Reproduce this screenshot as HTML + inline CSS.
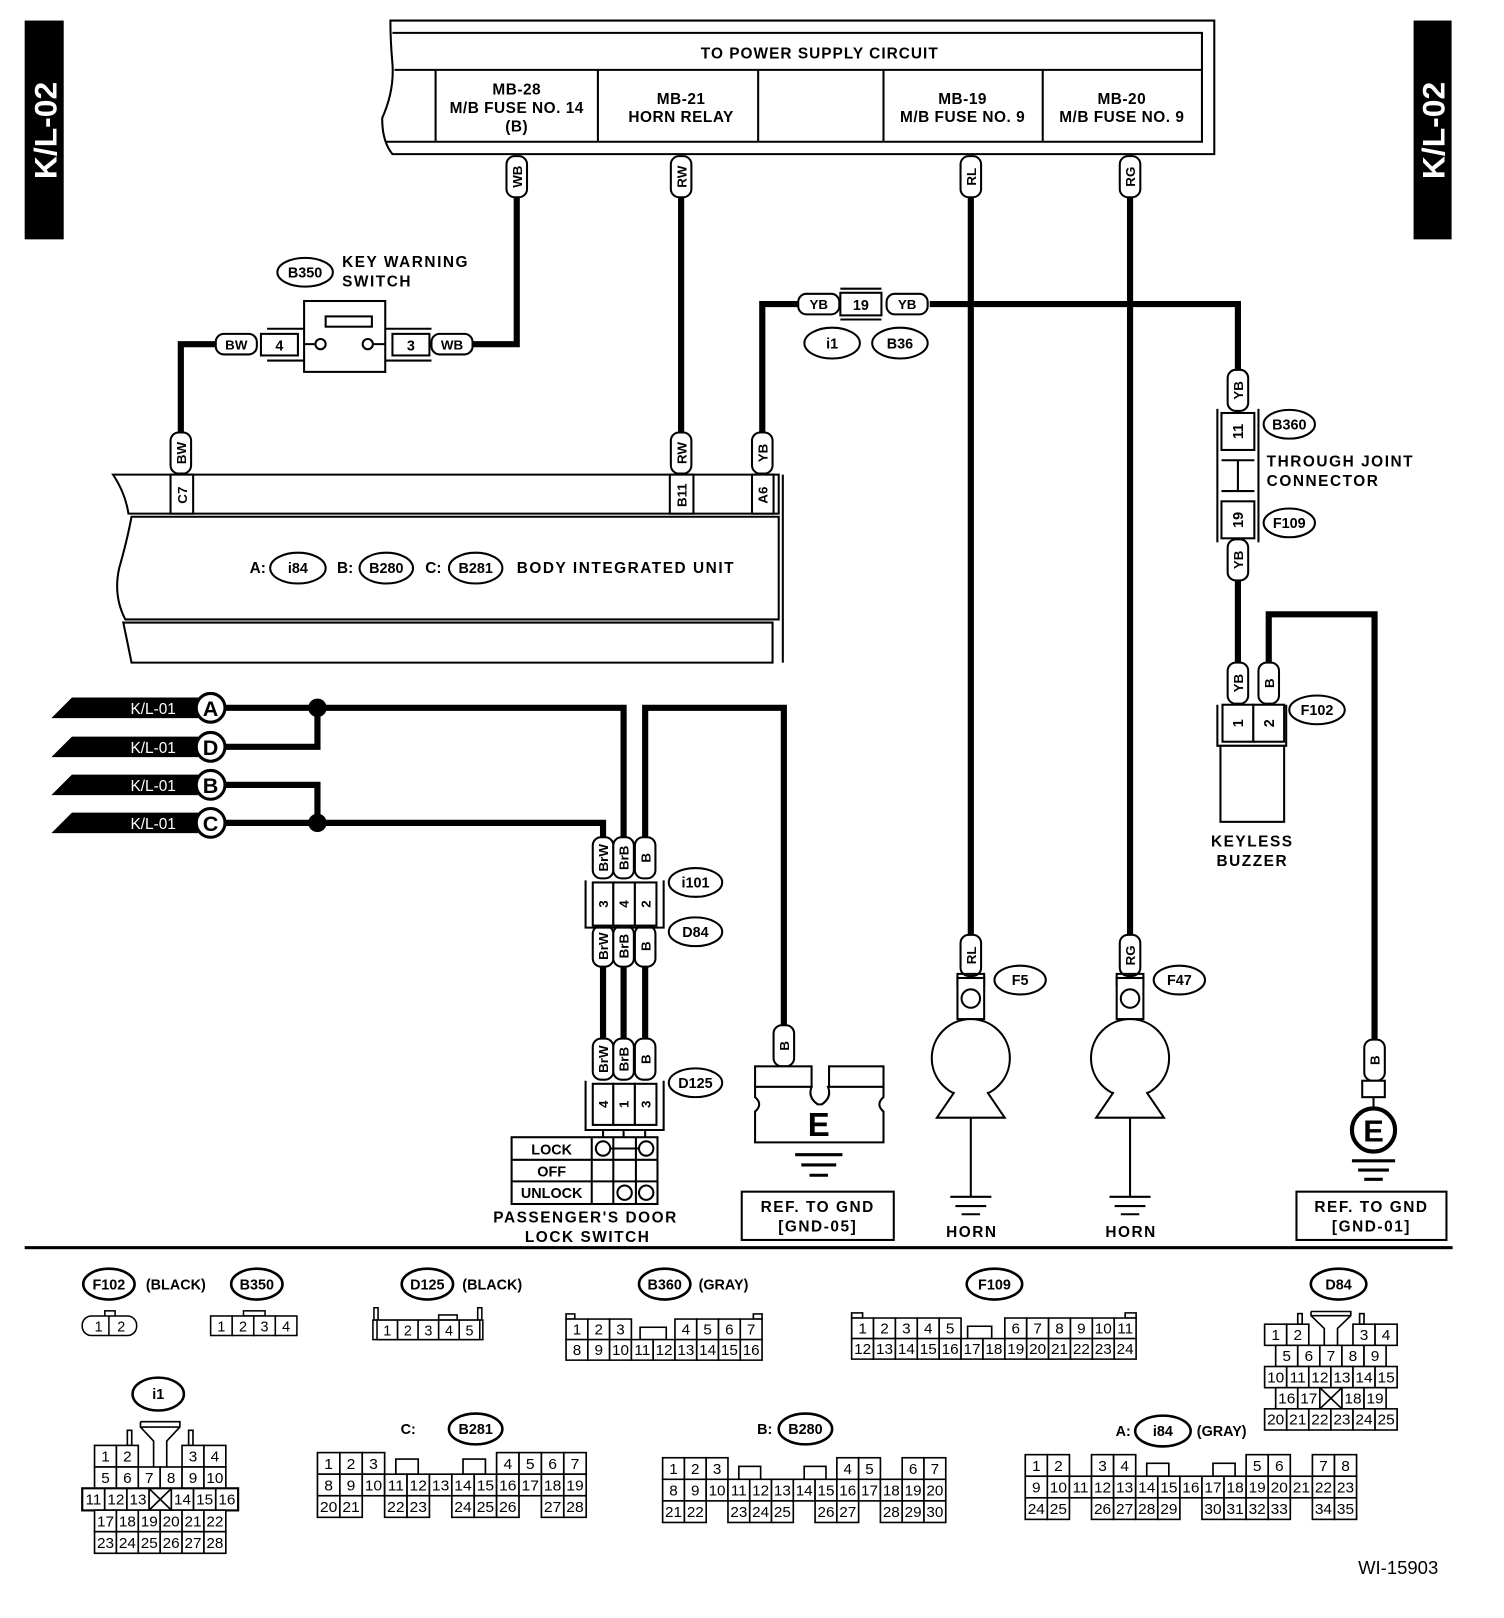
<!DOCTYPE html>
<html><head><meta charset="utf-8"><style>
html,body{margin:0;padding:0;background:#fff}
svg{display:block}
text{font-family:"Liberation Sans",sans-serif;font-weight:bold;fill:#000}
.l{font-size:15px;letter-spacing:1.5px}
.c rect{fill:#fff;stroke:#000;stroke-width:1.5}
.c text{font-size:14px;font-weight:normal;text-anchor:middle}
.w{fill:none;stroke:#000;stroke-width:6}
.t{fill:none;stroke:#000;stroke-width:2}
.p{fill:#fff;stroke:#000;stroke-width:2}
.m{text-anchor:middle}
</style></head><body>
<svg width="1504" height="1618" viewBox="0 0 1464 1575" xmlns="http://www.w3.org/2000/svg">
<!-- side tabs -->
<rect x="24" y="20" width="38" height="213" fill="#000"/>
<text transform="translate(55,127) rotate(-90)" class="m" style="font-size:31px;fill:#fff">K/L-02</text>
<rect x="1376" y="20" width="37" height="213" fill="#000"/>
<text transform="translate(1406,127) rotate(-90)" class="m" style="font-size:31px;fill:#fff">K/L-02</text>

<!-- top box -->
<path class="t" d="M380,20 H1182 V150 H382 Q372,138 372,115 Q384,88 382,62 Q380,40 380,20 Z"/>
<path class="t" d="M382,32 H1170 V138 H376 M384,68 H1170 M424,68 V138 M582,68 V138 M738,68 V138 M860,68 V138 M1015,68 V138"/>
<text x="798" y="57" class="m" style="font-size:15px;letter-spacing:1px">TO POWER SUPPLY CIRCUIT</text>
<g class="m" style="font-size:15px;letter-spacing:0.5px">
<text x="503" y="92">MB-28</text><text x="503" y="110">M/B FUSE NO. 14</text><text x="503" y="128">(B)</text>
<text x="663" y="101">MB-21</text><text x="663" y="119">HORN RELAY</text>
<text x="937" y="101">MB-19</text><text x="937" y="119">M/B FUSE NO. 9</text>
<text x="1092" y="101">MB-20</text><text x="1092" y="119">M/B FUSE NO. 9</text>
</g>

<!-- wires -->
<path class="w" d="M503,190 V335 H460"/>
<path class="w" d="M210,335 H176 V422"/>
<path class="w" d="M663,190 V422"/>
<path class="w" d="M945,190 V912"/>
<path class="w" d="M1100,190 V912"/>
<path class="w" d="M742,422 V296 H778 M905,296 H1205 V360"/>
<path class="w" d="M1205,565 V646"/>
<path class="w" d="M1235,646 V598 H1338 V1015"/>
<path class="w" d="M219,689 H607 V815 M309,689 V727 H219 M219,764 H309 V801 M219,801 H587 V815"/>
<path class="w" d="M628,815 V689 H763 V1000"/>
<path class="w" d="M587,940 V1012 M607,940 V1012 M628,940 V1012"/>
<circle cx="309" cy="689" r="9"/><circle cx="309" cy="801" r="9"/>

<!-- vertical pills -->
<g style="font-size:13px">
<g transform="translate(503,172)"><rect class="p" x="-10" y="-20" width="20" height="40" rx="8"/><text transform="rotate(-90)" class="m" y="5">WB</text></g>
<g transform="translate(663,172)"><rect class="p" x="-10" y="-20" width="20" height="40" rx="8"/><text transform="rotate(-90)" class="m" y="5">RW</text></g>
<g transform="translate(945,172)"><rect class="p" x="-10" y="-20" width="20" height="40" rx="8"/><text transform="rotate(-90)" class="m" y="5">RL</text></g>
<g transform="translate(1100,172)"><rect class="p" x="-10" y="-20" width="20" height="40" rx="8"/><text transform="rotate(-90)" class="m" y="5">RG</text></g>
<g transform="translate(176,441)"><rect class="p" x="-10" y="-20" width="20" height="40" rx="8"/><text transform="rotate(-90)" class="m" y="5">BW</text></g>
<g transform="translate(663,441)"><rect class="p" x="-10" y="-20" width="20" height="40" rx="8"/><text transform="rotate(-90)" class="m" y="5">RW</text></g>
<g transform="translate(742,441)"><rect class="p" x="-10" y="-20" width="20" height="40" rx="8"/><text transform="rotate(-90)" class="m" y="5">YB</text></g>
<g transform="translate(1205,380)"><rect class="p" x="-10" y="-20" width="20" height="40" rx="8"/><text transform="rotate(-90)" class="m" y="5">YB</text></g>
<g transform="translate(1205,545)"><rect class="p" x="-10" y="-20" width="20" height="40" rx="8"/><text transform="rotate(-90)" class="m" y="5">YB</text></g>
<g transform="translate(1205,665)"><rect class="p" x="-10" y="-20" width="20" height="40" rx="8"/><text transform="rotate(-90)" class="m" y="5">YB</text></g>
<g transform="translate(1235,665)"><rect class="p" x="-10" y="-20" width="20" height="40" rx="8"/><text transform="rotate(-90)" class="m" y="5">B</text></g>
<g transform="translate(587,835)"><rect class="p" x="-10" y="-20" width="20" height="40" rx="8"/><text transform="rotate(-90)" class="m" y="5">BrW</text></g>
<g transform="translate(607,835)"><rect class="p" x="-10" y="-20" width="20" height="40" rx="8"/><text transform="rotate(-90)" class="m" y="5">BrB</text></g>
<g transform="translate(628,835)"><rect class="p" x="-10" y="-20" width="20" height="40" rx="8"/><text transform="rotate(-90)" class="m" y="5">B</text></g>
<g transform="translate(587,921)"><rect class="p" x="-10" y="-20" width="20" height="40" rx="8"/><text transform="rotate(-90)" class="m" y="5">BrW</text></g>
<g transform="translate(607,921)"><rect class="p" x="-10" y="-20" width="20" height="40" rx="8"/><text transform="rotate(-90)" class="m" y="5">BrB</text></g>
<g transform="translate(628,921)"><rect class="p" x="-10" y="-20" width="20" height="40" rx="8"/><text transform="rotate(-90)" class="m" y="5">B</text></g>
<g transform="translate(587,1031)"><rect class="p" x="-10" y="-20" width="20" height="40" rx="8"/><text transform="rotate(-90)" class="m" y="5">BrW</text></g>
<g transform="translate(607,1031)"><rect class="p" x="-10" y="-20" width="20" height="40" rx="8"/><text transform="rotate(-90)" class="m" y="5">BrB</text></g>
<g transform="translate(628,1031)"><rect class="p" x="-10" y="-20" width="20" height="40" rx="8"/><text transform="rotate(-90)" class="m" y="5">B</text></g>
<g transform="translate(763,1018)"><rect class="p" x="-10" y="-20" width="20" height="40" rx="8"/><text transform="rotate(-90)" class="m" y="5">B</text></g>
<g transform="translate(945,930)"><rect class="p" x="-10" y="-20" width="20" height="40" rx="8"/><text transform="rotate(-90)" class="m" y="5">RL</text></g>
<g transform="translate(1100,930)"><rect class="p" x="-10" y="-20" width="20" height="40" rx="8"/><text transform="rotate(-90)" class="m" y="5">RG</text></g>
<g transform="translate(1338,1032)"><rect class="p" x="-10" y="-20" width="20" height="40" rx="8"/><text transform="rotate(-90)" class="m" y="5">B</text></g>
<!-- horizontal pills -->
<g transform="translate(230,335)"><rect class="p" x="-20" y="-10" width="40" height="20" rx="8"/><text class="m" y="5">BW</text></g>
<g transform="translate(440,335)"><rect class="p" x="-20" y="-10" width="40" height="20" rx="8"/><text class="m" y="5">WB</text></g>
<g transform="translate(797,296)"><rect class="p" x="-20" y="-10" width="40" height="20" rx="8"/><text class="m" y="5">YB</text></g>
<g transform="translate(883,296)"><rect class="p" x="-20" y="-10" width="40" height="20" rx="8"/><text class="m" y="5">YB</text></g>
</g>

<!-- key warning switch -->
<ellipse cx="297" cy="265" rx="27" ry="14" class="p"/><text x="297" y="270" class="m" style="font-size:14px">B350</text>
<text x="333" y="260" class="l">KEY WARNING</text><text x="333" y="279" class="l">SWITCH</text>
<rect x="296" y="293" width="79" height="69" class="p"/>
<rect x="317" y="308" width="45" height="10" class="p"/>
<path class="t" d="M260,320 H296 M260,351 H296 M375,320 H420 M375,351 H420 M296,335 H306 M364,335 H375"/>
<circle cx="312" cy="335" r="5" class="p"/><circle cx="358" cy="335" r="5" class="p"/>
<rect x="254" y="325" width="36" height="21" class="p"/><text x="272" y="341" class="m" style="font-size:14px">4</text>
<rect x="382" y="325" width="36" height="21" class="p"/><text x="400" y="341" class="m" style="font-size:14px">3</text>

<!-- i1/B36 -->
<rect x="818" y="285" width="40" height="22" class="p"/><text x="838" y="302" class="m" style="font-size:14px">19</text>
<path class="t" d="M818,281 H858 M818,311 H858"/>
<ellipse cx="810" cy="334" rx="27" ry="15" class="p"/><text x="810" y="339" class="m" style="font-size:14px">i1</text>
<ellipse cx="876" cy="334" rx="27" ry="15" class="p"/><text x="876" y="339" class="m" style="font-size:14px">B36</text>

<!-- through joint -->
<rect x="1189" y="402" width="32" height="36" class="p"/><text transform="translate(1210,420) rotate(-90)" class="m" style="font-size:14px">11</text>
<path class="t" d="M1185,398 V528 M1225,398 V528 M1189,448 H1221 M1189,478 H1221 M1205,448 V478"/>
<rect x="1189" y="488" width="32" height="36" class="p"/><text transform="translate(1210,506) rotate(-90)" class="m" style="font-size:14px">19</text>
<ellipse cx="1255" cy="413" rx="25" ry="14" class="p"/><text x="1255" y="418" class="m" style="font-size:14px">B360</text>
<ellipse cx="1255" cy="509" rx="25" ry="14" class="p"/><text x="1255" y="514" class="m" style="font-size:14px">F109</text>
<text x="1233" y="454" class="l">THROUGH JOINT</text><text x="1233" y="473" class="l">CONNECTOR</text>

<!-- keyless buzzer -->
<rect x="1190" y="686" width="30" height="36" class="p"/><text transform="translate(1210,704) rotate(-90)" class="m" style="font-size:14px">1</text>
<rect x="1220" y="686" width="30" height="36" class="p"/><text transform="translate(1240,704) rotate(-90)" class="m" style="font-size:14px">2</text>
<path class="t" d="M1185,686 V726 H1252 V686"/>
<rect x="1188" y="726" width="62" height="74" class="p"/>
<ellipse cx="1282" cy="691" rx="27" ry="14" class="p"/><text x="1282" y="696" class="m" style="font-size:14px">F102</text>
<text x="1219" y="824" class="l m">KEYLESS</text><text x="1219" y="843" class="l m">BUZZER</text>

<!-- body integrated unit -->
<path class="t" d="M110,462 H758 V500 H125 Q122,480 110,462 Z"/>
<path class="t" d="M128,503 H758 V603 H122 Q110,580 116,553 Q124,525 128,503 Z"/>
<path class="t" d="M120,606 H752 V645 H128 Q124,625 120,606 Z M762,462 V645"/>
<rect x="166" y="462" width="22" height="38" class="p"/><text transform="translate(182,482) rotate(-90)" class="m" style="font-size:13px">C7</text>
<rect x="652" y="462" width="23" height="38" class="p"/><text transform="translate(668,482) rotate(-90)" class="m" style="font-size:13px">B11</text>
<rect x="732" y="462" width="21" height="38" class="p"/><text transform="translate(747,482) rotate(-90)" class="m" style="font-size:13px">A6</text>
<text x="243" y="558" style="font-size:15px">A:</text>
<ellipse cx="290" cy="553" rx="27" ry="15" class="p"/><text x="290" y="558" class="m" style="font-size:14px">i84</text>
<text x="328" y="558" style="font-size:15px">B:</text>
<ellipse cx="376" cy="553" rx="26" ry="15" class="p"/><text x="376" y="558" class="m" style="font-size:14px">B280</text>
<text x="414" y="558" style="font-size:15px">C:</text>
<ellipse cx="463" cy="553" rx="26" ry="15" class="p"/><text x="463" y="558" class="m" style="font-size:14px">B281</text>
<text x="503" y="558" class="l">BODY INTEGRATED UNIT</text>

<!-- K/L-01 arrows -->
<g>
<polygon points="50,699 70,679 193,679 193,699"/><text x="127" y="695" style="font-size:15px;fill:#fff;font-weight:normal">K/L-01</text>
<circle cx="205" cy="689" r="14" class="p" style="stroke-width:3"/><text x="205" y="697" class="m" style="font-size:21px">A</text>
<polygon points="50,737 70,717 193,717 193,737"/><text x="127" y="733" style="font-size:15px;fill:#fff;font-weight:normal">K/L-01</text>
<circle cx="205" cy="727" r="14" class="p" style="stroke-width:3"/><text x="205" y="735" class="m" style="font-size:21px">D</text>
<polygon points="50,774 70,754 193,754 193,774"/><text x="127" y="770" style="font-size:15px;fill:#fff;font-weight:normal">K/L-01</text>
<circle cx="205" cy="764" r="14" class="p" style="stroke-width:3"/><text x="205" y="772" class="m" style="font-size:21px">B</text>
<polygon points="50,811 70,791 193,791 193,811"/><text x="127" y="807" style="font-size:15px;fill:#fff;font-weight:normal">K/L-01</text>
<circle cx="205" cy="801" r="14" class="p" style="stroke-width:3"/><text x="205" y="809" class="m" style="font-size:21px">C</text>
</g>

<!-- i101/D84 -->
<path class="t" d="M570,857 V903 H646 V857"/>
<rect x="577" y="859" width="20" height="42" class="p"/><rect x="597" y="859" width="21" height="42" class="p"/><rect x="618" y="859" width="21" height="42" class="p"/>
<g style="font-size:13px"><text transform="translate(592,880) rotate(-90)" class="m">3</text><text transform="translate(612,880) rotate(-90)" class="m">4</text><text transform="translate(633,880) rotate(-90)" class="m">2</text></g>
<ellipse cx="677" cy="859" rx="26" ry="14" class="p"/><text x="677" y="864" class="m" style="font-size:14px">i101</text>
<ellipse cx="677" cy="907" rx="26" ry="14" class="p"/><text x="677" y="912" class="m" style="font-size:14px">D84</text>
<!-- D125 -->
<path class="t" d="M570,1052 V1100 H646 V1052"/>
<rect x="577" y="1055" width="20" height="40" class="p"/><rect x="597" y="1055" width="21" height="40" class="p"/><rect x="618" y="1055" width="21" height="40" class="p"/>
<g style="font-size:13px"><text transform="translate(592,1075) rotate(-90)" class="m">4</text><text transform="translate(612,1075) rotate(-90)" class="m">1</text><text transform="translate(633,1075) rotate(-90)" class="m">3</text></g>
<ellipse cx="677" cy="1054" rx="26" ry="14" class="p"/><text x="677" y="1059" class="m" style="font-size:14px">D125</text>
<path class="t" d="M587,1100 V1107 M607,1100 V1107 M628,1100 V1107"/>
<rect x="498" y="1107" width="142" height="65" class="p"/>
<path class="t" d="M498,1129 H640 M498,1150 H640 M576,1107 V1172 M597,1107 V1172 M619,1107 V1172 M593,1118 H623"/>
<circle cx="587" cy="1118" r="7" class="p"/><circle cx="629" cy="1118" r="7" class="p"/>
<circle cx="608" cy="1161" r="7" class="p"/><circle cx="629" cy="1161" r="7" class="p"/>
<text x="537" y="1124" class="m" style="font-size:14px">LOCK</text>
<text x="537" y="1145" class="m" style="font-size:14px">OFF</text>
<text x="537" y="1166" class="m" style="font-size:14px">UNLOCK</text>
<text x="570" y="1190" class="l m">PASSENGER'S DOOR</text>
<text x="572" y="1209" class="l m">LOCK SWITCH</text>

<!-- ground E block -->
<rect x="735" y="1038" width="55" height="20" class="p"/><rect x="807" y="1038" width="53" height="20" class="p"/>
<path class="p" d="M735,1058 H790 Q786,1068 796,1075 H800 Q810,1068 806,1058 H860 V1068 Q852,1075 860,1082 V1112 H735 V1082 Q743,1075 735,1068 Z"/>
<text x="797" y="1106" class="m" style="font-size:32px">E</text>
<path class="t" style="stroke-width:3" d="M774,1124 H820 M780,1134 H814 M788,1144 H806"/>
<rect x="722" y="1160" width="148" height="47" class="p"/>
<text x="796" y="1180" class="l m">REF. TO GND</text><text x="796" y="1199" class="l m">[GND-05]</text>

<!-- horns -->
<g>
<path class="t" d="M932,960 V948 H958 V960 M1087,960 V948 H1113 V960"/>
<rect x="932" y="952" width="26" height="40" class="p"/><circle cx="945" cy="972" r="9" class="p"/>
<circle cx="945" cy="1030" r="38" class="p"/>
<path class="p" d="M929,1063 L912,1088 H978 L961,1063"/>
<path class="t" d="M945,1088 V1165 M925,1165 H965 M930,1174 H960 M936,1182 H954"/>
<text x="946" y="1204" class="l m">HORN</text>
<ellipse cx="993" cy="954" rx="25" ry="14" class="p"/><text x="993" y="959" class="m" style="font-size:14px">F5</text>
<rect x="1087" y="952" width="26" height="40" class="p"/><circle cx="1100" cy="972" r="9" class="p"/>
<circle cx="1100" cy="1030" r="38" class="p"/>
<path class="p" d="M1084,1063 L1067,1088 H1133 L1116,1063"/>
<path class="t" d="M1100,1088 V1165 M1080,1165 H1120 M1085,1174 H1115 M1091,1182 H1109"/>
<text x="1101" y="1204" class="l m">HORN</text>
<ellipse cx="1148" cy="954" rx="25" ry="14" class="p"/><text x="1148" y="959" class="m" style="font-size:14px">F47</text>
</g>

<!-- GND-01 -->
<rect x="1326" y="1052" width="22" height="16" class="p"/>
<circle cx="1337" cy="1100" r="21" class="p" style="stroke-width:4"/>
<path class="t" d="M1337,1068 V1079"/>
<text x="1337" y="1111" class="m" style="font-size:30px">E</text>
<path class="t" style="stroke-width:3" d="M1316,1130 H1358 M1322,1139 H1352 M1328,1148 H1346"/>
<rect x="1262" y="1160" width="146" height="47" class="p"/>
<text x="1335" y="1180" class="l m">REF. TO GND</text><text x="1335" y="1199" class="l m">[GND-01]</text>

<!-- separator -->
<rect x="24" y="1213" width="1390" height="3"/>

<!-- connector labels -->
<g style="font-size:14px">
<ellipse cx="106" cy="1250" rx="25" ry="15" class="p" style="stroke-width:2.5"/><text x="106" y="1255" class="m">F102</text>
<text x="142" y="1255">(BLACK)</text>
<ellipse cx="250" cy="1250" rx="25" ry="15" class="p" style="stroke-width:2.5"/><text x="250" y="1255" class="m">B350</text>
<ellipse cx="416" cy="1250" rx="25" ry="15" class="p" style="stroke-width:2.5"/><text x="416" y="1255" class="m">D125</text>
<text x="450" y="1255">(BLACK)</text>
<ellipse cx="647" cy="1250" rx="25" ry="15" class="p" style="stroke-width:2.5"/><text x="647" y="1255" class="m">B360</text>
<text x="680" y="1255">(GRAY)</text>
<ellipse cx="968" cy="1250" rx="27" ry="15" class="p" style="stroke-width:2.5"/><text x="968" y="1255" class="m">F109</text>
<ellipse cx="1303" cy="1250" rx="27" ry="15" class="p" style="stroke-width:2.5"/><text x="1303" y="1255" class="m">D84</text>
<ellipse cx="154" cy="1357" rx="25" ry="16" class="p" style="stroke-width:2.5"/><text x="154" y="1362" class="m">i1</text>
<text x="390" y="1396">C:</text>
<ellipse cx="463" cy="1391" rx="26" ry="15" class="p" style="stroke-width:2.5"/><text x="463" y="1396" class="m">B281</text>
<text x="737" y="1396">B:</text>
<ellipse cx="784" cy="1391" rx="26" ry="15" class="p" style="stroke-width:2.5"/><text x="784" y="1396" class="m">B280</text>
<text x="1086" y="1398">A:</text>
<ellipse cx="1132" cy="1393" rx="27" ry="15" class="p" style="stroke-width:2.5"/><text x="1132" y="1398" class="m">i84</text>
<text x="1165" y="1398">(GRAY)</text>
</g>
<text x="1322" y="1532" style="font-size:18px;font-weight:normal">WI-15903</text>

<!-- F102 connector -->
<g class="c">
<rect x="102" y="1276" width="10" height="6"/>
<rect x="80" y="1281" width="53" height="19" rx="9"/>
<path d="M106,1281 V1300" stroke="#000" stroke-width="1.5"/>
<text x="96" y="1296">1</text><text x="118" y="1296">2</text>
</g>
<!-- B350 connector -->
<g class="c" transform="translate(205,1281)">
<rect x="32" y="-5" width="21" height="5"/>
<rect x="0" y="0" width="21" height="19"/><rect x="21" y="0" width="21" height="19"/><rect x="42" y="0" width="21" height="19"/><rect x="63" y="0" width="21" height="19"/>
<text x="10.5" y="15">1</text><text x="31.5" y="15">2</text><text x="52.5" y="15">3</text><text x="73.5" y="15">4</text>
</g>
<!-- D125 connector -->
<g class="c" transform="translate(363,1285)">
<rect x="1" y="-12" width="4" height="12"/><rect x="102" y="-12" width="4" height="12"/><rect x="64" y="-5" width="18" height="5"/>
<rect x="0" y="0" width="107" height="19"/>
<rect x="4" y="0" width="20" height="19"/><rect x="24" y="0" width="20" height="19"/><rect x="44" y="0" width="20" height="19"/><rect x="64" y="0" width="20" height="19"/><rect x="84" y="0" width="20" height="19"/>
<text x="14" y="15">1</text><text x="34" y="15">2</text><text x="54" y="15">3</text><text x="74" y="15">4</text><text x="94" y="15">5</text>
</g>
<!-- B360 connector -->
<g class="c" transform="translate(551,1284) scale(1.06,1)">
<rect x="0" y="-5" width="8" height="5"/><rect x="172" y="-5" width="8" height="5"/><rect x="68" y="8" width="24" height="12"/>
<rect x="0" y="0" width="20" height="20"/><rect x="20" y="0" width="20" height="20"/><rect x="40" y="0" width="20" height="20"/>
<rect x="100" y="0" width="20" height="20"/><rect x="120" y="0" width="20" height="20"/><rect x="140" y="0" width="20" height="20"/><rect x="160" y="0" width="20" height="20"/>
<text x="10" y="15">1</text><text x="30" y="15">2</text><text x="50" y="15">3</text><text x="110" y="15">4</text><text x="130" y="15">5</text><text x="150" y="15">6</text><text x="170" y="15">7</text>
<rect x="0" y="20" width="20" height="20"/><rect x="20" y="20" width="20" height="20"/><rect x="40" y="20" width="20" height="20"/><rect x="60" y="20" width="20" height="20"/><rect x="80" y="20" width="20" height="20"/><rect x="100" y="20" width="20" height="20"/><rect x="120" y="20" width="20" height="20"/><rect x="140" y="20" width="20" height="20"/><rect x="160" y="20" width="20" height="20"/>
<text x="10" y="35">8</text><text x="30" y="35">9</text><text x="50" y="35">10</text><text x="70" y="35">11</text><text x="90" y="35">12</text><text x="110" y="35">13</text><text x="130" y="35">14</text><text x="150" y="35">15</text><text x="170" y="35">16</text>
</g>
<!-- F109 connector -->
<g class="c" transform="translate(829,1283) scale(1.065,1)">
<rect x="0" y="-5" width="10" height="5"/><rect x="250" y="-5" width="10" height="5"/><rect x="106" y="8" width="22" height="12"/>
<rect x="0" y="0" width="20" height="20"/><rect x="20" y="0" width="20" height="20"/><rect x="40" y="0" width="20" height="20"/><rect x="60" y="0" width="20" height="20"/><rect x="80" y="0" width="20" height="20"/>
<rect x="140" y="0" width="20" height="20"/><rect x="160" y="0" width="20" height="20"/><rect x="180" y="0" width="20" height="20"/><rect x="200" y="0" width="20" height="20"/><rect x="220" y="0" width="20" height="20"/><rect x="240" y="0" width="20" height="20"/>
<text x="10" y="15">1</text><text x="30" y="15">2</text><text x="50" y="15">3</text><text x="70" y="15">4</text><text x="90" y="15">5</text><text x="150" y="15">6</text><text x="170" y="15">7</text><text x="190" y="15">8</text><text x="210" y="15">9</text><text x="230" y="15">10</text><text x="250" y="15">11</text>
<rect x="0" y="20" width="20" height="20"/><rect x="20" y="20" width="20" height="20"/><rect x="40" y="20" width="20" height="20"/><rect x="60" y="20" width="20" height="20"/><rect x="80" y="20" width="20" height="20"/><rect x="100" y="20" width="20" height="20"/><rect x="120" y="20" width="20" height="20"/><rect x="140" y="20" width="20" height="20"/><rect x="160" y="20" width="20" height="20"/><rect x="180" y="20" width="20" height="20"/><rect x="200" y="20" width="20" height="20"/><rect x="220" y="20" width="20" height="20"/><rect x="240" y="20" width="20" height="20"/>
<text x="10" y="35">12</text><text x="30" y="35">13</text><text x="50" y="35">14</text><text x="70" y="35">15</text><text x="90" y="35">16</text><text x="110" y="35">17</text><text x="130" y="35">18</text><text x="150" y="35">19</text><text x="170" y="35">20</text><text x="190" y="35">21</text><text x="210" y="35">22</text><text x="230" y="35">23</text><text x="250" y="35">24</text>
</g>
<!-- D84 connector -->
<g class="c" transform="translate(1231,1289) scale(1.075,1.03)">
<rect x="30" y="-10" width="4" height="10"/><rect x="86" y="-10" width="4" height="10"/>
<path d="M42,-12 H78 V-8 L66,4 V20 M42,-12 V-8 L54,4 V20 M42,-8 H78" fill="none" stroke="#000" stroke-width="1.5"/>
<rect x="0" y="0" width="20" height="20"/><rect x="20" y="0" width="20" height="20"/><rect x="80" y="0" width="20" height="20"/><rect x="100" y="0" width="20" height="20"/>
<text x="10" y="15">1</text><text x="30" y="15">2</text><text x="90" y="15">3</text><text x="110" y="15">4</text>
<rect x="10" y="20" width="20" height="20"/><rect x="30" y="20" width="20" height="20"/><rect x="50" y="20" width="20" height="20"/><rect x="70" y="20" width="20" height="20"/><rect x="90" y="20" width="20" height="20"/>
<text x="20" y="35">5</text><text x="40" y="35">6</text><text x="60" y="35">7</text><text x="80" y="35">8</text><text x="100" y="35">9</text>
<rect x="0" y="40" width="20" height="20"/><rect x="20" y="40" width="20" height="20"/><rect x="40" y="40" width="20" height="20"/><rect x="60" y="40" width="20" height="20"/><rect x="80" y="40" width="20" height="20"/><rect x="100" y="40" width="20" height="20"/>
<text x="10" y="55">10</text><text x="30" y="55">11</text><text x="50" y="55">12</text><text x="70" y="55">13</text><text x="90" y="55">14</text><text x="110" y="55">15</text>
<rect x="10" y="60" width="20" height="20"/><rect x="30" y="60" width="20" height="20"/><rect x="50" y="60" width="20" height="20"/><rect x="70" y="60" width="20" height="20"/><rect x="90" y="60" width="20" height="20"/>
<path d="M50,60 L70,80 M70,60 L50,80" stroke="#000" stroke-width="1.5"/>
<text x="20" y="75">16</text><text x="40" y="75">17</text><text x="80" y="75">18</text><text x="100" y="75">19</text>
<rect x="0" y="80" width="20" height="20"/><rect x="20" y="80" width="20" height="20"/><rect x="40" y="80" width="20" height="20"/><rect x="60" y="80" width="20" height="20"/><rect x="80" y="80" width="20" height="20"/><rect x="100" y="80" width="20" height="20"/>
<text x="10" y="95">20</text><text x="30" y="95">21</text><text x="50" y="95">22</text><text x="70" y="95">23</text><text x="90" y="95">24</text><text x="110" y="95">25</text>
</g>
<!-- i1 connector -->
<g class="c" transform="translate(92,1407) scale(1.065,1.05)">
<rect x="30" y="-14" width="4" height="14"/><rect x="86" y="-14" width="4" height="14"/>
<path d="M42,-22 H78 V-17 L66,-4 V20 M42,-22 V-17 L54,-4 V20 M42,-17 H78" fill="none" stroke="#000" stroke-width="1.5"/>
<rect x="0" y="0" width="20" height="20"/><rect x="20" y="0" width="20" height="20"/><rect x="80" y="0" width="20" height="20"/><rect x="100" y="0" width="20" height="20"/>
<text x="10" y="15">1</text><text x="30" y="15">2</text><text x="90" y="15">3</text><text x="110" y="15">4</text>
<rect x="0" y="20" width="20" height="20"/><rect x="20" y="20" width="20" height="20"/><rect x="40" y="20" width="20" height="20"/><rect x="60" y="20" width="20" height="20"/><rect x="80" y="20" width="20" height="20"/><rect x="100" y="20" width="20" height="20"/>
<text x="10" y="35">5</text><text x="30" y="35">6</text><text x="50" y="35">7</text><text x="70" y="35">8</text><text x="90" y="35">9</text><text x="110" y="35">10</text>
<rect x="-11" y="40" width="142" height="20" style="stroke-width:2.5"/>
<rect x="-11" y="40" width="20.3" height="20"/><rect x="9.3" y="40" width="20.3" height="20"/><rect x="29.6" y="40" width="20.3" height="20"/><rect x="49.9" y="40" width="20.3" height="20"/><rect x="70.2" y="40" width="20.3" height="20"/><rect x="90.5" y="40" width="20.3" height="20"/><rect x="110.8" y="40" width="20.2" height="20"/>
<path d="M49.9,40 L70.2,60 M70.2,40 L49.9,60" stroke="#000" stroke-width="1.5"/>
<text x="-1" y="55">11</text><text x="19.5" y="55">12</text><text x="39.8" y="55">13</text><text x="80.4" y="55">14</text><text x="100.7" y="55">15</text><text x="121" y="55">16</text>
<rect x="0" y="60" width="20" height="20"/><rect x="20" y="60" width="20" height="20"/><rect x="40" y="60" width="20" height="20"/><rect x="60" y="60" width="20" height="20"/><rect x="80" y="60" width="20" height="20"/><rect x="100" y="60" width="20" height="20"/>
<text x="10" y="75">17</text><text x="30" y="75">18</text><text x="50" y="75">19</text><text x="70" y="75">20</text><text x="90" y="75">21</text><text x="110" y="75">22</text>
<rect x="0" y="80" width="20" height="20"/><rect x="20" y="80" width="20" height="20"/><rect x="40" y="80" width="20" height="20"/><rect x="60" y="80" width="20" height="20"/><rect x="80" y="80" width="20" height="20"/><rect x="100" y="80" width="20" height="20"/>
<text x="10" y="95">23</text><text x="30" y="95">24</text><text x="50" y="95">25</text><text x="70" y="95">26</text><text x="90" y="95">27</text><text x="110" y="95">28</text>
</g>
<!-- B281 connector -->
<g class="c" transform="translate(309,1414) scale(1.09,1.05)">
<rect x="70" y="6" width="20" height="14"/><rect x="130" y="6" width="20" height="14"/>
<rect x="0" y="0" width="20" height="20"/><rect x="20" y="0" width="20" height="20"/><rect x="40" y="0" width="20" height="20"/>
<rect x="160" y="0" width="20" height="20"/><rect x="180" y="0" width="20" height="20"/><rect x="200" y="0" width="20" height="20"/><rect x="220" y="0" width="20" height="20"/>
<text x="10" y="15">1</text><text x="30" y="15">2</text><text x="50" y="15">3</text><text x="170" y="15">4</text><text x="190" y="15">5</text><text x="210" y="15">6</text><text x="230" y="15">7</text>
<rect x="0" y="20" width="20" height="20"/><rect x="20" y="20" width="20" height="20"/><rect x="40" y="20" width="20" height="20"/><rect x="60" y="20" width="20" height="20"/><rect x="80" y="20" width="20" height="20"/><rect x="100" y="20" width="20" height="20"/><rect x="120" y="20" width="20" height="20"/><rect x="140" y="20" width="20" height="20"/><rect x="160" y="20" width="20" height="20"/><rect x="180" y="20" width="20" height="20"/><rect x="200" y="20" width="20" height="20"/><rect x="220" y="20" width="20" height="20"/>
<text x="10" y="35">8</text><text x="30" y="35">9</text><text x="50" y="35">10</text><text x="70" y="35">11</text><text x="90" y="35">12</text><text x="110" y="35">13</text><text x="130" y="35">14</text><text x="150" y="35">15</text><text x="170" y="35">16</text><text x="190" y="35">17</text><text x="210" y="35">18</text><text x="230" y="35">19</text>
<rect x="0" y="40" width="20" height="20"/><rect x="20" y="40" width="20" height="20"/><rect x="60" y="40" width="20" height="20"/><rect x="80" y="40" width="20" height="20"/><rect x="120" y="40" width="20" height="20"/><rect x="140" y="40" width="20" height="20"/><rect x="160" y="40" width="20" height="20"/><rect x="200" y="40" width="20" height="20"/><rect x="220" y="40" width="20" height="20"/>
<text x="10" y="55">20</text><text x="30" y="55">21</text><text x="70" y="55">22</text><text x="90" y="55">23</text><text x="130" y="55">24</text><text x="150" y="55">25</text><text x="170" y="55">26</text><text x="210" y="55">27</text><text x="230" y="55">28</text>
</g>
<!-- B280 connector -->
<g class="c" transform="translate(645,1419) scale(1.06,1.05)">
<rect x="70" y="8" width="20" height="12"/><rect x="130" y="8" width="20" height="12"/>
<rect x="0" y="0" width="20" height="20"/><rect x="20" y="0" width="20" height="20"/><rect x="40" y="0" width="20" height="20"/>
<rect x="160" y="0" width="20" height="20"/><rect x="180" y="0" width="20" height="20"/><rect x="220" y="0" width="20" height="20"/><rect x="240" y="0" width="20" height="20"/>
<text x="10" y="15">1</text><text x="30" y="15">2</text><text x="50" y="15">3</text><text x="170" y="15">4</text><text x="190" y="15">5</text><text x="230" y="15">6</text><text x="250" y="15">7</text>
<rect x="0" y="20" width="20" height="20"/><rect x="20" y="20" width="20" height="20"/><rect x="40" y="20" width="20" height="20"/><rect x="60" y="20" width="20" height="20"/><rect x="80" y="20" width="20" height="20"/><rect x="100" y="20" width="20" height="20"/><rect x="120" y="20" width="20" height="20"/><rect x="140" y="20" width="20" height="20"/><rect x="160" y="20" width="20" height="20"/><rect x="180" y="20" width="20" height="20"/><rect x="200" y="20" width="20" height="20"/><rect x="220" y="20" width="20" height="20"/><rect x="240" y="20" width="20" height="20"/>
<text x="10" y="35">8</text><text x="30" y="35">9</text><text x="50" y="35">10</text><text x="70" y="35">11</text><text x="90" y="35">12</text><text x="110" y="35">13</text><text x="130" y="35">14</text><text x="150" y="35">15</text><text x="170" y="35">16</text><text x="190" y="35">17</text><text x="210" y="35">18</text><text x="230" y="35">19</text><text x="250" y="35">20</text>
<rect x="0" y="40" width="20" height="20"/><rect x="20" y="40" width="20" height="20"/><rect x="60" y="40" width="20" height="20"/><rect x="80" y="40" width="20" height="20"/><rect x="100" y="40" width="20" height="20"/><rect x="140" y="40" width="20" height="20"/><rect x="160" y="40" width="20" height="20"/><rect x="200" y="40" width="20" height="20"/><rect x="220" y="40" width="20" height="20"/><rect x="240" y="40" width="20" height="20"/>
<text x="10" y="55">21</text><text x="30" y="55">22</text><text x="70" y="55">23</text><text x="90" y="55">24</text><text x="110" y="55">25</text><text x="150" y="55">26</text><text x="170" y="55">27</text><text x="210" y="55">28</text><text x="230" y="55">29</text><text x="250" y="55">30</text>
</g>
<!-- i84 connector -->
<g class="c" transform="translate(998,1416) scale(1.075,1.05)">
<rect x="110" y="8" width="20" height="12"/><rect x="170" y="8" width="20" height="12"/>
<rect x="0" y="0" width="20" height="20"/><rect x="20" y="0" width="20" height="20"/><rect x="60" y="0" width="20" height="20"/><rect x="80" y="0" width="20" height="20"/>
<rect x="200" y="0" width="20" height="20"/><rect x="220" y="0" width="20" height="20"/><rect x="260" y="0" width="20" height="20"/><rect x="280" y="0" width="20" height="20"/>
<text x="10" y="15">1</text><text x="30" y="15">2</text><text x="70" y="15">3</text><text x="90" y="15">4</text><text x="210" y="15">5</text><text x="230" y="15">6</text><text x="270" y="15">7</text><text x="290" y="15">8</text>
<rect x="0" y="20" width="20" height="20"/><rect x="20" y="20" width="20" height="20"/><rect x="40" y="20" width="20" height="20"/><rect x="60" y="20" width="20" height="20"/><rect x="80" y="20" width="20" height="20"/><rect x="100" y="20" width="20" height="20"/><rect x="120" y="20" width="20" height="20"/><rect x="140" y="20" width="20" height="20"/><rect x="160" y="20" width="20" height="20"/><rect x="180" y="20" width="20" height="20"/><rect x="200" y="20" width="20" height="20"/><rect x="220" y="20" width="20" height="20"/><rect x="240" y="20" width="20" height="20"/><rect x="260" y="20" width="20" height="20"/><rect x="280" y="20" width="20" height="20"/>
<text x="10" y="35">9</text><text x="30" y="35">10</text><text x="50" y="35">11</text><text x="70" y="35">12</text><text x="90" y="35">13</text><text x="110" y="35">14</text><text x="130" y="35">15</text><text x="150" y="35">16</text><text x="170" y="35">17</text><text x="190" y="35">18</text><text x="210" y="35">19</text><text x="230" y="35">20</text><text x="250" y="35">21</text><text x="270" y="35">22</text><text x="290" y="35">23</text>
<rect x="0" y="40" width="20" height="20"/><rect x="20" y="40" width="20" height="20"/><rect x="60" y="40" width="20" height="20"/><rect x="80" y="40" width="20" height="20"/><rect x="100" y="40" width="20" height="20"/><rect x="120" y="40" width="20" height="20"/><rect x="160" y="40" width="20" height="20"/><rect x="180" y="40" width="20" height="20"/><rect x="200" y="40" width="20" height="20"/><rect x="220" y="40" width="20" height="20"/><rect x="260" y="40" width="20" height="20"/><rect x="280" y="40" width="20" height="20"/>
<text x="10" y="55">24</text><text x="30" y="55">25</text><text x="70" y="55">26</text><text x="90" y="55">27</text><text x="110" y="55">28</text><text x="130" y="55">29</text><text x="170" y="55">30</text><text x="190" y="55">31</text><text x="210" y="55">32</text><text x="230" y="55">33</text><text x="270" y="55">34</text><text x="290" y="55">35</text>
</g>
</svg>
</body></html>
